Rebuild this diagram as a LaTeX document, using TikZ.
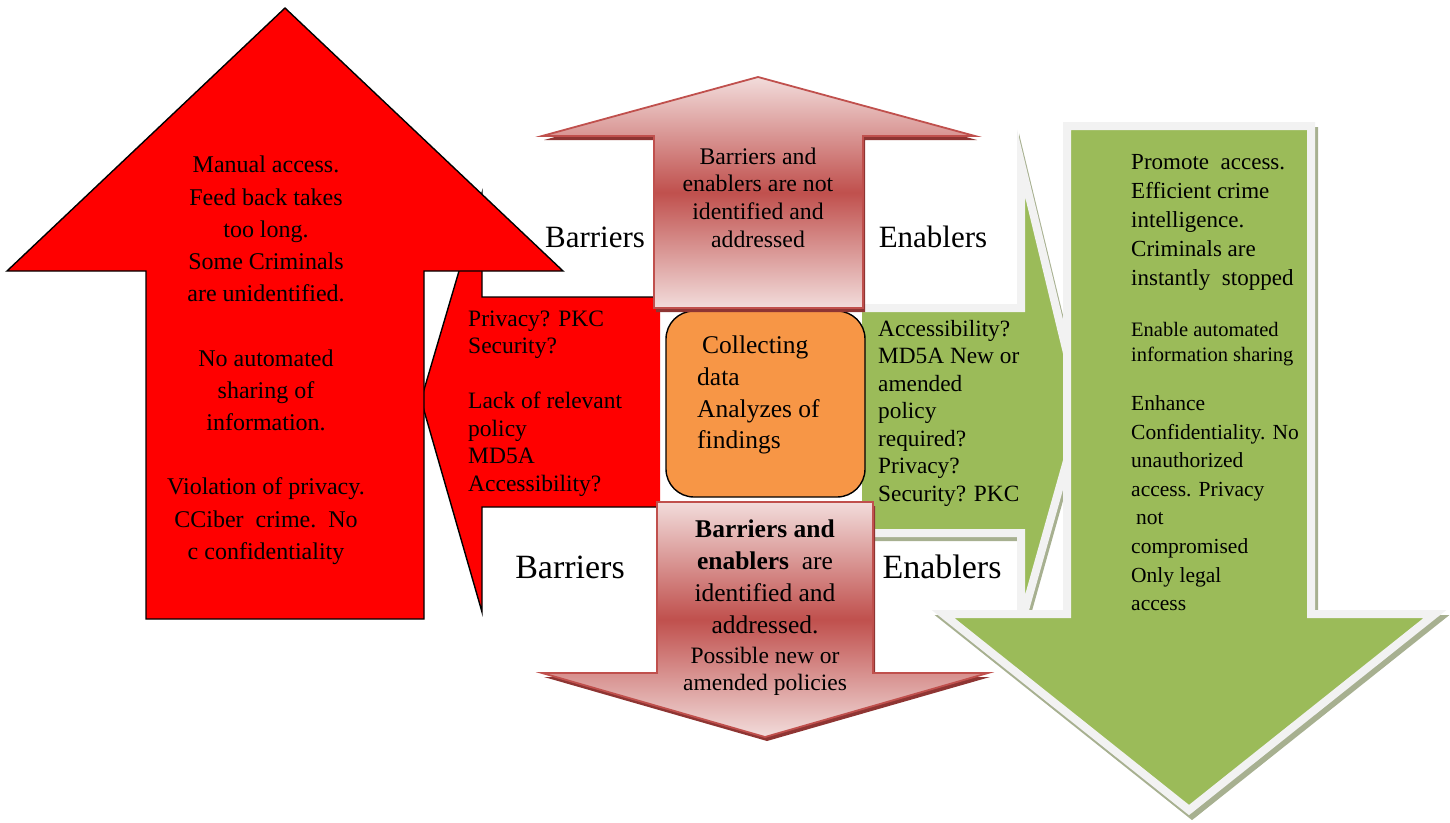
\documentclass[tikz,border=0pt]{standalone}
\usepackage{fontspec}
\setmainfont{Liberation Serif}
\definecolor{alarmred}{HTML}{FF0000}
\definecolor{pinklight}{HTML}{F2DCDB}
\definecolor{pinkdark}{HTML}{C0504D}
\definecolor{pinkshadow}{HTML}{8E3533}
\definecolor{leafgreen}{HTML}{9BBB59}
\definecolor{paleedge}{HTML}{F2F2F2}
\definecolor{greenshadow}{HTML}{A7B090}
\definecolor{orangefill}{HTML}{F79646}
\newcommand{\txtsize}[2]{\fontsize{#1pt}{#2pt}\selectfont}
\begin{document}
\begin{tikzpicture}[x=1pt,y=-1pt,
  outline/.style={draw=black,line width=1.4pt,line join=miter},
  pinkarrow/.style={top color=pinklight,bottom color=pinklight,middle color=pinkdark,draw=pinkdark,line width=1.8pt},
  pinkdrop/.style={fill=pinkshadow},
  greenedge/.style={draw=paleedge,line width=8pt,line join=miter},
  greendrop/.style={draw=greenshadow,line width=8pt,line join=miter},
  tag/.style={inner sep=0pt},
  block/.style={inner sep=0pt,align=left,anchor=north west},
  cblock/.style={inner sep=0pt,align=center,anchor=north}]
\useasboundingbox (0,0) rectangle (1450,822);

% left-pointing red callout, partly hidden by the big arrow
\fill[alarmred] (660,297) -- (482,297) -- (482,193) -- (421,400) -- (482,612) -- (482,507) -- (660,507) -- cycle;
\draw[outline] (660,297) -- (482,297) -- (482,193) -- (421,400) -- (482,612) -- (482,507) -- (660,507);

% big red up arrow
\filldraw[fill=alarmred,outline] (285,8) -- (563,271) -- (424,271) -- (424,619) -- (146,619) -- (146,271) -- (7,271) -- cycle;

% right-pointing green callout
\draw[greendrop,shift={(2,4)}] (862,308) -- (1021,308) -- (1021,163) -- (1081,411) -- (1021,624) -- (1021,533) -- (862,533);
\fill[leafgreen] (862,308) -- (1021,308) -- (1021,163) -- (1081,411) -- (1021,624) -- (1021,533) -- (862,533) -- cycle;
\draw[greenedge] (862,308) -- (1021,308) -- (1021,163) -- (1081,411) -- (1021,624) -- (1021,533) -- (862,533);

% green down arrow
\filldraw[greendrop,fill=greenshadow,shift={(3,5)}] (1067,126) -- (1311,126) -- (1311,614) -- (1435,614) -- (1189,810) -- (943,614) -- (1067,614) -- cycle;
\filldraw[fill=leafgreen,greenedge] (1067,126) -- (1311,126) -- (1311,614) -- (1435,614) -- (1189,810) -- (943,614) -- (1067,614) -- cycle;

% central box
\filldraw[fill=orangefill,draw=black,line width=1.4pt,rounded corners=28pt] (666,311) rectangle (865,497);

% pink up arrow
\fill[pinkdrop,shift={(2,4)}] (758,77) -- (975,136) -- (863,136) -- (863,308) -- (654,308) -- (654,136) -- (542,136) -- cycle;
\path[pinkarrow] (758,77) -- (975,136) -- (863,136) -- (863,308) -- (654,308) -- (654,136) -- (542,136) -- cycle;

% pink down arrow
\fill[pinkdrop,shift={(2,4)}] (657,502) -- (873,502) -- (873,673) -- (988,673) -- (765,737) -- (542,673) -- (657,673) -- cycle;
\path[pinkarrow] (657,502) -- (873,502) -- (873,673) -- (988,673) -- (765,737) -- (542,673) -- (657,673) -- cycle;

% texts
\node[cblock,font={\txtsize{24}{32.2}}] (lossText) at (266,156) {Manual access.\\Feed back takes\\too long.\\Some Criminals\\are unidentified.\\\mbox{}\\No automated\\sharing of\\information.\\\mbox{}\\Violation of privacy.\\CCiber\ \ crime.\ \ No\\c confidentiality};

\node[block,font={\txtsize{23.5}{27.5}}] (barrierList) at (468,310.6) {Privacy? PKC\\Security?\\\mbox{}\\Lack of relevant\\policy\\MD5A\\Accessibility?};

\node[cblock,font={\txtsize{23.8}{27.6}}] (notIdentified) at (758,147.5) {Barriers and\\enablers are not\\identified and\\addressed};

\node[cblock,font={\txtsize{25.5}{32}}] (identified) at (765,519.8) {\textbf{Barriers and}\\\textbf{enablers}\ \ are\\identified and\\addressed.};
\node[cblock,font={\txtsize{23.5}{27}}] (policies) at (765,646.6) {Possible new or\\amended policies};

\node[block,font={\txtsize{25.5}{31.7}}] (collect) at (697,335.8) {\hspace*{5pt}Collecting\\data\\Analyzes of\\findings};

\node[block,font={\txtsize{23.3}{27.5}}] (enablerList) at (878,319.7) {Accessibility?\\MD5A New or\\amended\\policy\\required?\\Privacy?\\Security? PKC};

\node[block,font={\txtsize{23}{29}}] (gainA) at (1131,153.8) {Promote\ \ access.\\Efficient crime\\intelligence.\\Criminals are\\instantly\ \ stopped};
\node[block,font={\txtsize{20.5}{25}}] (gainB) at (1131,321.8) {Enable automated\\information sharing};
\node[block,font={\txtsize{21.5}{28.6}}] (gainC) at (1131,395.4) {Enhance\\Confidentiality. No\\unauthorized\\access. Privacy\\\hspace*{5pt}not\\compromised\\Only legal\\access};

\node[tag,font={\txtsize{31}{36}}] (barrTop) at (595,237) {Barriers};
\node[tag,font={\txtsize{31}{36}}] (enabTop) at (933,237) {Enablers};
\node[tag,font={\txtsize{34}{40}}] (barrBot) at (570,567) {Barriers};
\node[tag,font={\txtsize{34}{40}}] (enabBot) at (942,567) {Enablers};
\end{tikzpicture}
\end{document}
